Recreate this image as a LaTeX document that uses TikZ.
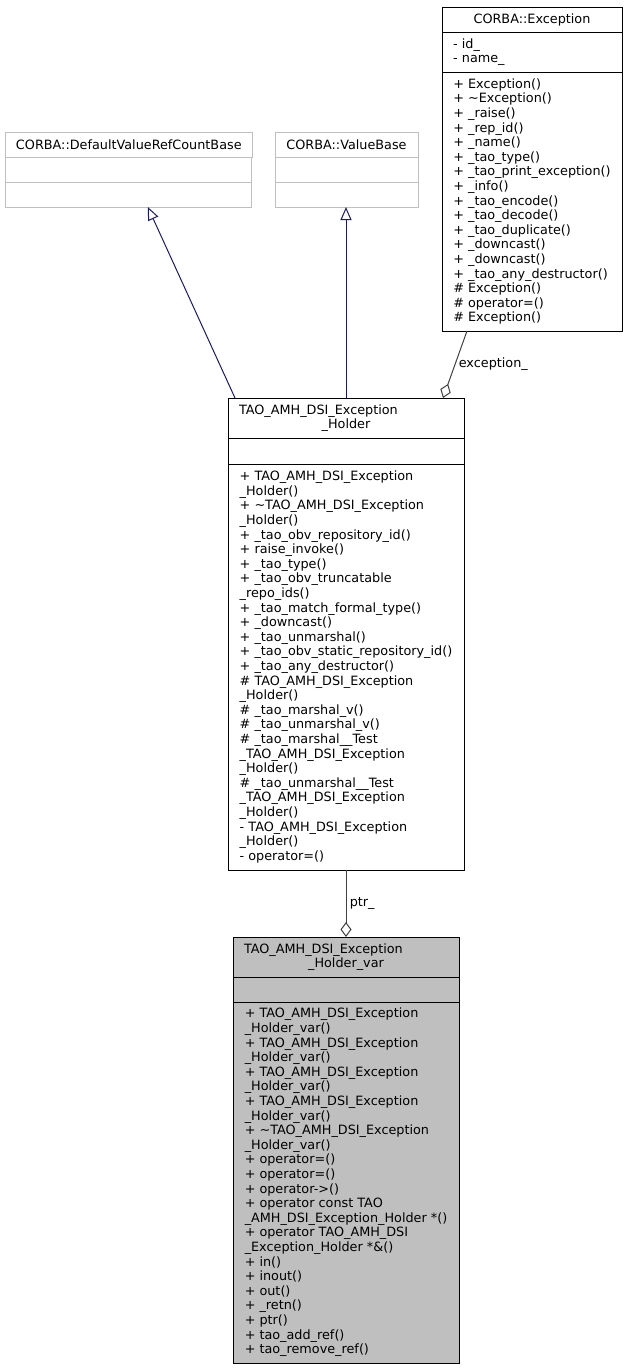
\documentclass[tikz,border=0pt]{standalone}
\usepackage{fontspec}
\setmainfont{DejaVu Sans}
\usepackage{tikz}
\usetikzlibrary{positioning}
\usetikzlibrary{arrows.meta}
\definecolor{midnight}{RGB}{25,25,112}
\definecolor{extgray}{RGB}{191,191,191}
\definecolor{edgegray}{RGB}{64,64,64}

\begin{document}
\begin{tikzpicture}[x=1pt,y=-1pt,line width=1pt,
    every node/.style={font=\fontsize{12.8pt}{14.6pt}\selectfont},
    part/.style={draw,rectangle,outer sep=0pt,inner xsep=11pt,inner ysep=0pt,align=left},
    ext/.style={part,draw=extgray},
    inherit/.style={draw=midnight,-{Triangle[open,length=13pt,width=11pt]}},
    member/.style={draw=edgegray,-{Diamond[open,length=15pt,width=11pt]}}]
\useasboundingbox (0,0) rectangle (627,1371);

\node[part,anchor=north west,minimum width=180pt,minimum height=25pt,align=center] (exc title) at (442,7) {CORBA::Exception};
\node[part,below=0pt of exc title,minimum width=180pt,minimum height=40pt,text width=158pt] (exc attr) {- id\_\\- name\_};
\node[part,below=0pt of exc attr,minimum width=180pt,minimum height=259pt] (exc meth) {+ Exception()\\
+ \textasciitilde Exception()\\
+ \_raise()\\
+ \_rep\_id()\\
+ \_name()\\
+ \_tao\_type()\\
+ \_tao\_print\_exception()\\
+ \_info()\\
+ \_tao\_encode()\\
+ \_tao\_decode()\\
+ \_tao\_duplicate()\\
+ \_downcast()\\
+ \_downcast()\\
+ \_tao\_any\_destructor()\\
\# Exception()\\
\# operator=()\\
\# Exception()};

\node[ext,anchor=north west,minimum width=246pt,minimum height=25pt,align=center] (dvrc title) at (5,132) {CORBA::DefaultValueRefCountBase};
\node[ext,below=0pt of dvrc title,minimum width=246pt,minimum height=25pt] (dvrc attr) {};
\node[ext,below=0pt of dvrc attr,minimum width=246pt,minimum height=25pt] (dvrc meth) {};

\node[ext,anchor=north west,minimum width=143pt,minimum height=25pt,align=center] (vb title) at (275,132) {CORBA::ValueBase};
\node[ext,below=0pt of vb title,minimum width=143pt,minimum height=25pt] (vb attr) {};
\node[ext,below=0pt of vb attr,minimum width=143pt,minimum height=25pt] (vb meth) {};

\node[part,anchor=north west,minimum width=236pt,minimum height=40pt,text width=214pt,align=center] (holder title) at (228,398) {\makebox[214pt][l]{TAO\_AMH\_DSI\_Exception}\\\_Holder};
\node[part,below=0pt of holder title,minimum width=236pt,minimum height=26pt] (holder attr) {};
\node[part,below=0pt of holder attr,minimum width=236pt,minimum height=406pt] (holder meth) {+ TAO\_AMH\_DSI\_Exception\\
\_Holder()\\
+ \textasciitilde TAO\_AMH\_DSI\_Exception\\
\_Holder()\\
+ \_tao\_obv\_repository\_id()\\
+ raise\_invoke()\\
+ \_tao\_type()\\
+ \_tao\_obv\_truncatable\\
\_repo\_ids()\\
+ \_tao\_match\_formal\_type()\\
+ \_downcast()\\
+ \_tao\_unmarshal()\\
+ \_tao\_obv\_static\_repository\_id()\\
+ \_tao\_any\_destructor()\\
\# TAO\_AMH\_DSI\_Exception\\
\_Holder()\\
\# \_tao\_marshal\_v()\\
\# \_tao\_unmarshal\_v()\\
\# \_tao\_marshal\_\_Test\\
\_TAO\_AMH\_DSI\_Exception\\
\_Holder()\\
\# \_tao\_unmarshal\_\_Test\\
\_TAO\_AMH\_DSI\_Exception\\
\_Holder()\\
- TAO\_AMH\_DSI\_Exception\\
\_Holder()\\
- operator=()};

\node[part,fill=extgray,anchor=north west,minimum width=226pt,minimum height=40pt,text width=204pt,align=center] (var title) at (233,937) {\makebox[204pt][l]{TAO\_AMH\_DSI\_Exception}\\\_Holder\_var};
\node[part,fill=extgray,below=0pt of var title,minimum width=226pt,minimum height=25pt] (var attr) {};
\node[part,fill=extgray,below=0pt of var attr,minimum width=226pt,minimum height=361pt] (var meth) {+ TAO\_AMH\_DSI\_Exception\\
\_Holder\_var()\\
+ TAO\_AMH\_DSI\_Exception\\
\_Holder\_var()\\
+ TAO\_AMH\_DSI\_Exception\\
\_Holder\_var()\\
+ TAO\_AMH\_DSI\_Exception\\
\_Holder\_var()\\
+ \textasciitilde TAO\_AMH\_DSI\_Exception\\
\_Holder\_var()\\
+ operator=()\\
+ operator=()\\
+ operator->()\\
+ operator const TAO\\
\_AMH\_DSI\_Exception\_Holder *()\\
+ operator TAO\_AMH\_DSI\\
\_Exception\_Holder *\&()\\
+ in()\\
+ inout()\\
+ out()\\
+ \_retn()\\
+ ptr()\\
+ tao\_add\_ref()\\
+ tao\_remove\_ref()};

\draw[inherit] ([xshift=7pt]holder title.north west) -- ([xshift=19pt]dvrc meth.south);
\draw[inherit] (holder title.north) -- (holder title.north |- vb meth.south);
\draw[member] ([xshift=25pt]exc meth.south west) -- node[right] {exception\_} ([xshift=-21pt]holder title.north east);
\draw[member] (holder meth.south) -- node[right] {ptr\_} (var title.north);
\end{tikzpicture}
\end{document}
